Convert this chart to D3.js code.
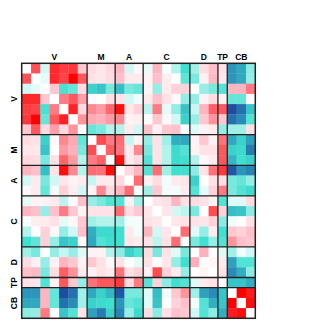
<!doctype html>
<html lang="en">

<head>
	<meta charset="UTF-8">
	<title>Correlation matrix</title>
	<style>
		body {
			margin: 0;
			background: #fff;
		}

		.group-label {
			font-family: "Liberation Sans", Arial, sans-serif;
			font-size: 8.5px;
			font-weight: bold;
			fill: #000;
		}
	</style>
	<script src="https://cdn.jsdelivr.net/npm/d3@7"></script>
</head>

<body>
	<svg width="330" height="329"></svg>

	<script>
		// groups of variables (name, number of rows/cols)
		var groups = ['V', 'M', 'A', 'C', 'D', 'TP', 'CB'];
		var groupSizes = [7, 3, 3, 5, 3, 1, 3];

		// upper triangle of the symmetric matrix, row i holds columns i+1 .. 24
		var upper = [
			[0.7, -0.12, 0.85, 0.78, 0.8, 0.22, 0.14, 0.1, 0.16, 0.3, -0.12, 0.03, -0.07, 0.3, -0.02, -0.2, -0.5, -0.25, 0.14, 0.25, 0.12, -0.75, -0.7, -0.3],
			[-0.07, 0.85, 0.75, 1.0, 0.68, 0.12, 0.1, 0.14, 0.25, 0.08, 0.08, 0.05, 0.25, 0.07, 0, -0.42, -0.35, 0.06, 0.28, 0.1, -0.75, -0.7, -0.28],
			[0.22, -0.48, -0.4, 0.14, -0.55, -0.6, -0.35, -0.62, -0.35, -0.4, 0.05, -0.28, 0.08, 0.18, 0.18, 0, -0.27, -0.35, -0.45, 0.3, 0.3, 0.55],
			[0.55, 0.68, 0.4, 0.03, 0, 0.12, 0.12, -0.12, -0.04, 0.08, 0.25, 0.12, 0.03, -0.28, -0.28, 0.05, 0.14, 0.06, -0.4, -0.4, 0.02],
			[0.88, 0.15, 0.5, 0.42, 0.62, 0.95, 0.1, 0.18, -0.18, 0.55, -0.07, -0.28, -0.6, -0.15, 0.3, 0.65, 0.68, -0.95, -0.85, -0.6],
			[0.45, 0.35, 0.32, 0.42, 0.5, 0.05, 0.07, 0.02, 0.22, 0.03, -0.12, -0.55, -0.27, 0.22, 0.45, 0.22, -0.85, -0.78, -0.45],
			[-0.4, -0.35, -0.2, -0.2, 0.08, -0.12, 0.25, 0.05, 0.22, 0.25, 0, -0.08, 0.05, 0.08, -0.28, -0.25, -0.25, 0.12],
			[0.72, 0.55, 0.6, -0.15, 0.05, -0.27, 0.12, -0.25, -0.68, -0.7, 0.05, 0.22, 0.06, 0.58, -0.7, -0.55, -0.72],
			[0.65, 0.58, 0.08, 0.5, -0.35, 0.12, -0.2, -0.52, -0.45, 0.05, 0.12, 0.12, 0.68, -0.55, -0.52, -0.82],
			[0.95, 0.08, 0.15, -0.45, 0.12, -0.2, -0.52, -0.5, -0.2, 0.03, 0.08, 0.68, -0.65, -0.5, -0.55],
			[0.16, 0.3, -0.45, 0.6, -0.25, -0.5, -0.5, -0.3, 0.12, 0.58, 0.8, -0.92, -0.75, -0.8],
			[0.6, 0.06, 0.14, -0.04, 0.08, 0.1, -0.55, 0, 0.12, 0.14, -0.35, -0.4, -0.28],
			[-0.25, 0.22, -0.03, -0.04, 0.08, -0.45, -0.07, 0.18, 0.55, -0.35, -0.45, -0.52],
			[0.1, 0.12, 0.3, 0.12, 0.14, 0.12, 0.06, -0.45, -0.08, -0.08, 0.14],
			[0.1, -0.12, -0.17, -0.35, 0, 0.72, 0.18, -0.62, -0.6, -0.3],
			[0.1, 0.12, 0.12, 0.1, 0.18, -0.3, -0.04, 0, 0.12],
			[0.6, -0.08, -0.28, 0.08, -0.5, 0.22, 0.18, 0.25],
			[-0.35, -0.5, -0.28, -0.45, 0.45, 0.25, 0.22],
			[0.32, 0, -0.08, -0.25, -0.04, -0.12],
			[0.04, 0.08, -0.72, -0.45, -0.45],
			[0.12, -0.78, -0.68, -0.3],
			[-0.6, -0.6, -0.68],
			[1.0, 0.9],
			[0.95]
		];

		var n = d3.sum(groupSizes);

		// start index of each group
		var starts = [];
		groupSizes.reduce(function(acc, s) { starts.push(acc); return acc + s; }, 0);

		// build cells from the upper triangle, mirror below the diagonal
		var cells = [];
		for (var i = 0; i < n; i++) {
			for (var j = 0; j < n; j++) {
				var v = null;
				if (j > i) v = upper[i][j - i - 1];
				else if (j < i) v = upper[j][i - j - 1];
				cells.push({row: i, col: j, value: v});
			}
		}

		var svg = d3.select('svg'),
			margin = {top: 63.3, left: 21.7},
			width = 233.6,
			height = 255,
			g = svg.append('g').attr('transform', 'translate(' + margin.left + ',' + margin.top + ')');

		var x = d3.scaleBand().domain(d3.range(n)).range([0, width]);
		var y = d3.scaleBand().domain(d3.range(n)).range([0, height]);

		var color = d3.scaleLinear()
			.domain([-1, -0.7, -0.5, 0, 0.25, 0.5, 1])
			.range(['#1a3a9a', '#30a8c0', '#40e0d0', '#ffffff', '#ffc0cb', '#ff8890', '#ff0000'])
			.clamp(true);

		g.selectAll('rect.cell')
			.data(cells)
			.enter().append('rect')
			.attr('class', 'cell')
			.attr('x', function(d) { return x(d.col); })
			.attr('y', function(d) { return y(d.row); })
			.attr('width', x.bandwidth() + 0.3)
			.attr('height', y.bandwidth() + 0.3)
			.attr('fill', function(d) { return d.value === null ? '#fff' : color(d.value); });

		// separators between groups
		var cuts = starts.slice(1);
		g.selectAll('line.vsep')
			.data(cuts)
			.enter().append('line')
			.attr('x1', function(d) { return x(d); })
			.attr('x2', function(d) { return x(d); })
			.attr('y1', 0)
			.attr('y2', height)
			.attr('stroke', '#222')
			.attr('stroke-width', 1.3);

		g.selectAll('line.hsep')
			.data(cuts)
			.enter().append('line')
			.attr('x1', 0)
			.attr('x2', width)
			.attr('y1', function(d) { return y(d); })
			.attr('y2', function(d) { return y(d); })
			.attr('stroke', '#222')
			.attr('stroke-width', 1.3);

		// outer frame
		g.append('rect')
			.attr('width', width)
			.attr('height', height)
			.attr('fill', 'none')
			.attr('stroke', '#222')
			.attr('stroke-width', 1.5);

		// group labels, top
		g.selectAll('text.top')
			.data(groups)
			.enter().append('text')
			.attr('class', 'group-label')
			.attr('text-anchor', 'middle')
			.attr('x', function(d, k) { return x(starts[k]) + x.bandwidth() * groupSizes[k] / 2; })
			.attr('y', -3)
			.text(function(d) { return d; });

		// group labels, left (rotated)
		g.selectAll('text.left')
			.data(groups)
			.enter().append('text')
			.attr('class', 'group-label')
			.attr('text-anchor', 'middle')
			.attr('transform', function(d, k) {
				var cy = y(starts[k]) + y.bandwidth() * groupSizes[k] / 2;
				return 'translate(-5,' + cy + ') rotate(-90)';
			})
			.text(function(d) { return d; });
	</script>
</body>

</html>
